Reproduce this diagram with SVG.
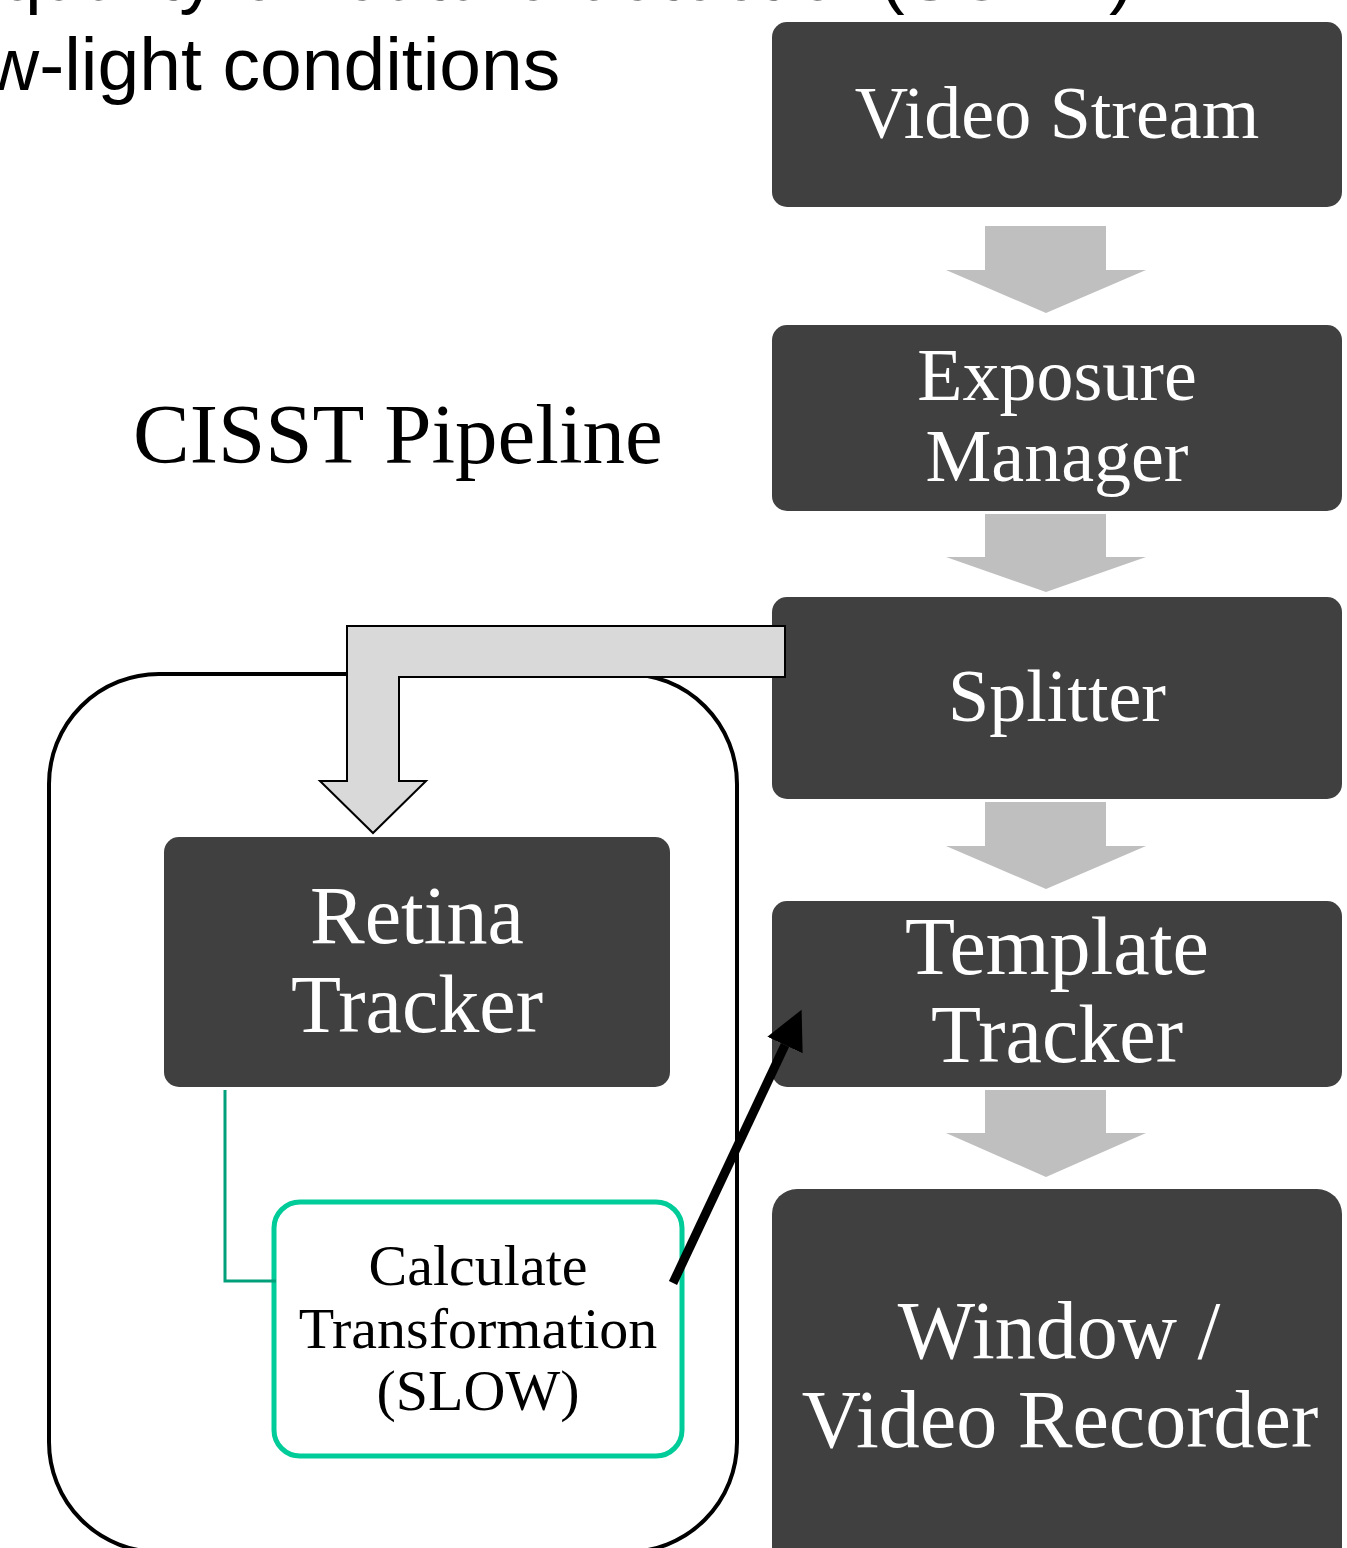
<svg xmlns="http://www.w3.org/2000/svg" width="1347" height="1548" viewBox="0 0 1347 1548">
  <style>
    .box { fill: #404040; }
    .wt { fill: #ffffff; font-family: "Liberation Serif", "Times New Roman", serif; text-anchor: middle; }
    .bt { fill: #000000; font-family: "Liberation Serif", "Times New Roman", serif; }
    .sans { fill: #000000; font-family: "Liberation Sans", Arial, sans-serif; font-size: 75px; }
    .flow { fill: #bfbfbf; }
  </style>
  <defs>
    <marker id="blackHead" markerUnits="userSpaceOnUse" markerWidth="40" markerHeight="40" refX="0" refY="19.5" orient="auto">
      <path d="M0,0 L39,19.5 L0,39 z" fill="#000000"/>
    </marker>
  </defs>
  <rect x="0" y="0" width="1347" height="1548" fill="#ffffff"/>

  <g id="title">
    <text class="sans" x="0" y="0">quality of feature detection(SURF)</text>
    <text class="sans" x="-15" y="90">w-light conditions</text>
  </g>

  <g id="cisst-label">
    <text class="bt" x="133" y="463" font-size="85">CISST Pipeline</text>
  </g>

  <g id="group-outline">
    <rect x="49" y="674" width="688" height="878" rx="110" ry="110" fill="none" stroke="#000000" stroke-width="4"/>
  </g>

  <g id="video-stream">
    <rect class="box" x="772" y="22" width="570" height="185" rx="15"/>
    <text class="wt" x="1057" y="138" font-size="74">Video Stream</text>
  </g>

  <g id="exposure-manager">
    <rect class="box" x="772" y="325" width="570" height="186" rx="15"/>
    <text class="wt" x="1057" y="400" font-size="74">Exposure</text>
    <text class="wt" x="1057" y="481" font-size="74">Manager</text>
  </g>

  <g id="splitter">
    <rect class="box" x="772" y="597" width="570" height="202" rx="15"/>
    <text class="wt" x="1057" y="721" font-size="74">Splitter</text>
  </g>

  <g id="template-tracker">
    <rect class="box" x="772" y="901" width="570" height="186" rx="15"/>
    <text class="wt" x="1057" y="974" font-size="82">Template</text>
    <text class="wt" x="1057" y="1062" font-size="82">Tracker</text>
  </g>

  <g id="window-recorder">
    <rect class="box" x="772" y="1189" width="570" height="400" rx="25"/>
    <text class="wt" x="1059" y="1358" font-size="82">Window /</text>
    <text class="wt" x="1060" y="1447" font-size="82">Video Recorder</text>
  </g>

  <g id="retina-tracker">
    <rect class="box" x="164" y="837" width="506" height="250" rx="15"/>
    <text class="wt" x="417" y="943" font-size="82">Retina</text>
    <text class="wt" x="417" y="1032" font-size="82">Tracker</text>
  </g>

  <g id="calculate-transformation">
    <rect x="274" y="1202" width="408" height="254" rx="26" fill="#ffffff" stroke="#00cc99" stroke-width="5"/>
    <text class="bt" x="478" y="1285" font-size="58" text-anchor="middle">Calculate</text>
    <text class="bt" x="478" y="1348" font-size="58" text-anchor="middle">Transformation</text>
    <text class="bt" x="478" y="1410" font-size="58" text-anchor="middle">(SLOW)</text>
  </g>

  <g id="connectors">
    <polygon class="flow" points="985,226 1106,226 1106,270 1146,270 1046,313 946,270 985,270"/>
    <polygon class="flow" points="985,514 1106,514 1106,557 1146,557 1046,592 946,557 985,557"/>
    <polygon class="flow" points="985,802 1106,802 1106,846 1146,846 1046,889 946,846 985,846"/>
    <polygon class="flow" points="985,1090 1106,1090 1106,1133 1146,1133 1046,1177 946,1133 985,1133"/>
    <polygon points="785,626 347,626 347,781 320,781 373,833 426,781 399,781 399,677 785,677" fill="#d9d9d9" stroke="#000000" stroke-width="2"/>
    <polyline points="225,1090 225,1281 276,1281" fill="none" stroke="#00a07a" stroke-width="3"/>
    <line x1="673" y1="1283" x2="785" y2="1045" stroke="#000000" stroke-width="9" marker-end="url(#blackHead)"/>
  </g>
</svg>
